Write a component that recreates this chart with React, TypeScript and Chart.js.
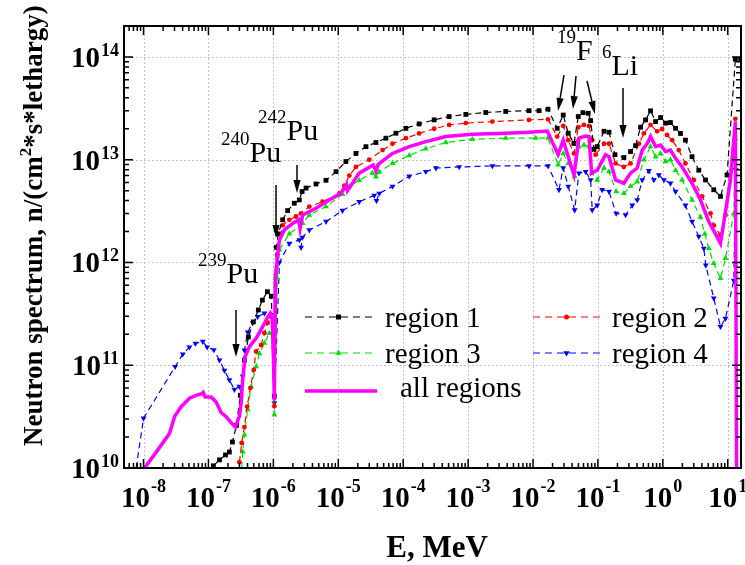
import React, { useEffect, useRef } from "react";
import { Chart, registerables } from "chart.js";

Chart.register(...registerables);

// ---------------- DATA (E in MeV, flux in n/(cm^2*s*lethargy)) ----------------
const region1: number[][] = [
  [1.19e-7, 1.05e10], [1.48e-7, 1.2e10], [1.83e-7, 1.34e10], [2.1e-7, 1.43e10], [2.34e-7, 1.79e10],
  [2.7e-7, 2.6e10], [3.1e-7, 5.1e10], [3.58e-7, 1.12e11], [4.12e-7, 1.88e11], [4.92e-7, 2.64e11],
  [5.87e-7, 3.45e11], [6.77e-7, 4.3e11], [8.09e-7, 5.2e11], [9.3e-7, 4.7e11], [1.035e-6, 5e10],
  [1.11e-6, 1.4e12], [1.19e-6, 1.9e12], [1.39e-6, 2.6e12], [1.66e-6, 3.2e12], [2.1e-6, 3.77e12],
  [2.51e-6, 4.06e12], [2.77e-6, 4.9e12], [3.19e-6, 5.3e12], [4.54e-6, 5.8e12], [6.47e-6, 6.3e12],
  [9.23e-6, 7.65e12], [1.31e-5, 9.6e12], [1.87e-5, 1.15e13], [2.67e-5, 1.34e13], [3.8e-5, 1.47e13],
  [5.42e-5, 1.62e13], [7.73e-5, 1.81e13], [1.1e-4, 2.02e13], [1.76e-4, 2.23e13], [3.0e-4, 2.44e13],
  [5.1e-4, 2.63e13], [9.23e-4, 2.76e13], [1.87e-3, 2.88e13], [3.8e-3, 2.95e13], [8.68e-3, 3.0e13],
  [1.24e-2, 3.0e13], [1.7e-2, 3.1e13], [2.36e-2, 2.02e13], [2.92e-2, 2.72e13], [3.49e-2, 1.81e13],
  [4.27e-2, 1.44e13], [4.98e-2, 2.63e13], [5.88e-2, 2.87e13], [7.09e-2, 2.83e13], [7.73e-2, 2.4e13],
  [8.68e-2, 1.26e13], [9.75e-2, 1.34e13], [0.124, 1.89e13], [0.148, 1.85e13], [0.183, 1.12e13],
  [0.251, 1.05e13], [0.318, 1.2e13], [0.38, 1.37e13], [0.454, 2.07e13], [0.542, 2.44e13],
  [0.647, 2.99e13], [0.773, 2.35e13], [0.923, 2.57e13], [1.1, 2.27e13], [1.31, 2.3e13],
  [1.57, 2.02e13], [1.87, 1.8e13], [2.23, 1.55e13], [2.82, 1.07e13], [3.58, 7.9e12],
  [4.54, 6.35e12], [6.09, 5.1e12], [7.73, 4.4e12], [9.75, 7.1e12], [13.1, 9.5e13], [15.9, 9.5e13],
];

const region2: number[][] = [
  [3.0e-7, 1.14e10], [3.25e-7, 1.75e10], [3.58e-7, 2.5e10], [3.94e-7, 3.96e10], [4.42e-7, 6.0e10],
  [4.98e-7, 9.0e10], [5.42e-7, 1.36e11], [6.47e-7, 1.57e11], [7.28e-7, 2.06e11], [8.17e-7, 2.58e11],
  [9.22e-7, 2.97e11], [1.035e-6, 4e10], [1.15e-6, 1.2e12], [1.39e-6, 2.3e12], [1.76e-6, 2.6e12],
  [2.23e-6, 2.8e12], [2.67e-6, 3.0e12], [3.58e-6, 3.5e12], [5.73e-6, 3.9e12], [1.04e-5, 4.7e12],
  [1.24e-5, 5.6e12], [1.48e-5, 7.0e12], [1.87e-5, 8.5e12], [3.0e-5, 1.0e13], [4.81e-5, 1.24e13],
  [6.84e-5, 1.43e13], [1.1e-4, 1.62e13], [1.76e-4, 1.8e13], [3.0e-4, 2.0e13], [5.1e-4, 2.18e13],
  [9.23e-4, 2.27e13], [2.37e-3, 2.35e13], [8.68e-3, 2.44e13], [1.7e-2, 2.47e13], [2.36e-2, 1.68e13],
  [2.92e-2, 2.13e13], [3.49e-2, 1.55e13], [4.27e-2, 1.15e13], [4.98e-2, 2.07e13], [6.09e-2, 2.18e13],
  [7.28e-2, 2.13e13], [8.17e-2, 1.55e13], [9.22e-2, 1.12e13], [0.124, 1.43e13], [0.148, 1.43e13],
  [0.187, 9.2e12], [0.251, 8.5e12], [0.318, 9.2e12], [0.428, 1.43e13], [0.51, 1.8e13],
  [0.647, 2.18e13], [0.817, 1.89e13], [0.975, 1.99e13], [1.16, 1.74e13], [1.39, 1.55e13],
  [1.76, 1.24e13], [2.23, 9.2e12], [3.0, 6.35e12], [4.03, 4.4e12], [5.42, 3.0e12],
  [6.09, 2.3e12], [7.73, 1.85e12], [9.22, 2.9e12], [13.1, 2.5e13],
];

const region3: number[][] = [
  [3.19e-7, 8e9], [3.37e-7, 1.44e10], [3.58e-7, 2.1e10], [4.03e-7, 3.7e10], [4.54e-7, 6.2e10],
  [5.42e-7, 9.7e10], [6.09e-7, 1.3e11], [7.28e-7, 1.64e11], [8.68e-7, 2.05e11], [9.75e-7, 2.1e11],
  [1.035e-6, 3.3e10], [1.15e-6, 7e11], [1.24e-6, 1.33e12], [1.76e-6, 1.9e12], [2.83e-6, 2.4e12],
  [3.58e-6, 2.9e12], [6.47e-6, 3.5e12], [1.16e-5, 4.6e12], [1.48e-5, 5.5e12], [2.1e-5, 6.3e12],
  [3.34e-5, 7.4e12], [3.8e-5, 6.8e12], [4.28e-5, 7.6e12], [6.84e-5, 9.2e12], [1.24e-4, 1.1e13],
  [2.23e-4, 1.28e13], [4.54e-4, 1.47e13], [1.16e-3, 1.58e13], [3.8e-3, 1.62e13], [1.1e-2, 1.62e13],
  [1.7e-2, 1.62e13], [2.44e-2, 8.9e12], [2.92e-2, 1.15e13], [3.49e-2, 9.2e12], [4.38e-2, 6.9e12],
  [5.1e-2, 1.34e13], [6.09e-2, 1.39e13], [7.28e-2, 1.34e13], [8.0e-2, 7.4e12], [9.75e-2, 6.35e12],
  [0.124, 8.3e12], [0.148, 7.65e12], [0.191, 4.9e12], [0.251, 4.7e12], [0.318, 5.5e12],
  [0.403, 6.1e12], [0.51, 1.0e13], [0.647, 1.34e13], [0.773, 1.07e13], [0.923, 1.15e13],
  [1.1, 9.6e12], [1.31, 1.0e13], [1.57, 7.9e12], [1.98, 6.35e12], [2.82, 4.06e12],
  [3.8, 2.76e12], [4.43, 1.9e12], [5.1, 1.37e12], [6.09, 9.8e11], [7.73, 7.0e11],
  [9.22, 1.1e12], [12.4, 3.0e12], [13.2, 1.6e13],
];

const region4: number[][] = [
  [7.3e-9, 8e9], [1.0e-8, 3.05e10], [3.07e-8, 9.7e10], [4.03e-8, 1.28e11], [5.1e-8, 1.5e11],
  [6.31e-8, 1.63e11], [8.17e-8, 1.7e11], [9.55e-8, 1.5e11], [1.21e-7, 1.41e11], [1.48e-7, 1.12e11],
  [1.76e-7, 8.9e10], [2.1e-7, 7.2e10], [2.51e-7, 5.8e10], [3.0e-7, 6.2e10], [3.37e-7, 7.8e10],
  [3.58e-7, 1.4e11], [4.03e-7, 2.1e11], [4.81e-7, 2.6e11], [5.73e-7, 2.97e11], [7.28e-7, 3.2e11],
  [9.22e-7, 3.1e11], [1.035e-6, 4.3e10], [1.24e-6, 1.0e12], [1.76e-6, 1.53e12], [2.51e-6, 1.66e12],
  [2.67e-6, 1.4e12], [2.79e-6, 1.75e12], [3.58e-6, 2.07e12], [6.47e-6, 2.5e12], [1.16e-5, 3.2e12],
  [2.1e-5, 3.9e12], [3.58e-5, 4.5e12], [3.88e-5, 4.0e12], [4.28e-5, 4.7e12], [6.84e-5, 5.5e12],
  [1.24e-4, 6.9e12], [2.23e-4, 7.65e12], [3.19e-4, 8.3e12], [7.28e-4, 8.5e12], [2.37e-3, 8.7e12],
  [8.68e-3, 8.7e12], [1.7e-2, 8.7e12], [2.51e-2, 5.1e12], [2.92e-2, 8.3e12], [3.49e-2, 5.5e12],
  [4.38e-2, 3.24e12], [5.1e-2, 7.4e12], [6.47e-2, 7.65e12], [7.73e-2, 6.35e12], [8.17e-2, 3.24e12],
  [9.75e-2, 3.6e12], [0.116, 5.1e12], [0.148, 4.9e12], [0.191, 3.0e12], [0.267, 2.9e12],
  [0.338, 3.6e12], [0.403, 4.06e12], [0.481, 6.35e12], [0.609, 7.8e12], [0.728, 6.35e12],
  [0.868, 7.1e12], [1.04, 6.35e12], [1.31, 5.9e12], [1.57, 4.9e12], [2.23, 3.6e12],
  [2.82, 2.5e12], [3.58, 1.79e12], [4.28, 1.37e12], [4.59, 9.4e11], [6.09, 4.5e11],
  [7.73, 2.37e11], [9.22, 2.85e11], [12.4, 6.7e11], [13.2, 8e12],
];

const allRegions: number[][] = [
  [9.75e-9, 9.5e9], [1.66e-8, 1.5e10], [2.51e-8, 2.17e10], [3.0e-8, 3.16e10], [3.8e-8, 3.95e10],
  [5.1e-8, 4.77e10], [6.47e-8, 5.1e10], [7.73e-8, 5.25e10], [8.28e-8, 5.45e10], [8.89e-8, 4.9e10],
  [1.1e-7, 4.9e10], [1.31e-7, 4.4e10], [1.57e-7, 3.45e10], [1.87e-7, 3.16e10], [2.23e-7, 2.76e10],
  [2.6e-7, 2.5e10], [3.0e-7, 3.2e10], [3.19e-7, 4.3e10], [3.37e-7, 7.2e10], [3.67e-7, 1.21e11],
  [4.28e-7, 1.52e11], [5.42e-7, 1.83e11], [6.84e-7, 2.37e11], [8.0e-7, 2.87e11], [9.0e-7, 3.2e11],
  [9.75e-7, 2.8e11], [1.035e-6, 4.6e10], [1.07e-6, 7.3e11], [1.24e-6, 1.66e12], [1.48e-6, 2.07e12],
  [1.98e-6, 2.4e12], [2.45e-6, 2.6e12], [2.58e-6, 2.14e12], [2.83e-6, 2.9e12], [4.54e-6, 3.37e12],
  [7.28e-6, 4.06e12], [1.1e-5, 4.7e12], [1.34e-5, 5.7e12], [1.39e-5, 5.0e12], [2.1e-5, 7.4e12],
  [3.45e-5, 8.9e12], [3.8e-5, 7.7e12], [4.12e-5, 9.0e12], [6.84e-5, 1.15e13], [1.24e-4, 1.34e13],
  [2.23e-4, 1.5e13], [4.54e-4, 1.68e13], [1.16e-3, 1.77e13], [3.8e-3, 1.81e13], [8.68e-3, 1.85e13],
  [1.66e-2, 1.9e13], [2.44e-2, 1.12e13], [2.92e-2, 1.55e13], [3.37e-2, 1.15e13], [4.27e-2, 7.1e12],
  [5.1e-2, 1.62e13], [6.47e-2, 1.7e13], [7.28e-2, 1.68e13], [8.0e-2, 7.4e12], [9.75e-2, 7.9e12],
  [0.131, 1.12e13], [0.148, 1.07e13], [0.187, 6.35e12], [0.251, 5.9e12], [0.318, 7.4e12],
  [0.403, 8.3e12], [0.481, 1.24e13], [0.573, 1.43e13], [0.647, 1.68e13], [0.773, 1.34e13],
  [0.923, 1.39e13], [1.1, 1.2e13], [1.31, 1.24e13], [1.57, 1.03e13], [1.98, 8.5e12],
  [2.82, 5.9e12], [3.8, 4.06e12], [5.1, 2.5e12], [6.47, 1.9e12], [7.73, 1.53e12],
  [11.0, 6.35e12], [13.1, 2.35e13], [14.0, 1e8],
];

const xTickExps = ["-8", "-7", "-6", "-5", "-4", "-3", "-2", "-1", "0", "1"];
const yTickExps = ["10", "11", "12", "13", "14"];
const legendLabels = ["region 1", "region 2", "region 3", "region 4", "all regions"];
const xTitle = "E, MeV";
const yTitleParts = ["Neutron spectrum, n/(cm", "2", "*s*lethargy)"];

// annotation texts: [superscript, main]
const noteTexts = [["239", "Pu"], ["240", "Pu"], ["242", "Pu"], ["19", "F"], ["6", "Li"]];

// ---------------- LAYOUT / STYLE ----------------
const FF = '"Liberation Serif", "Times New Roman", Times, serif';
const W = 745;
const H = 565;
const COLORS = ["#000000", "#ff0000", "#00e000", "#0000ff", "#ff00ff"];

const notePos = [
  [198, 283], [221, 162], [258, 140], [557, 60], [602, 75],
];
const arrows = [
  [236, 310, 236, 357],
  [276, 185, 276, 238],
  [297, 165, 297, 193],
  [564, 75, 558, 111],
  [576, 76, 573, 109],
  [587, 81, 595, 114],
  [623, 88, 623, 138],
];

function drawMarker(ctx: CanvasRenderingContext2D, kind: number, x: number, y: number) {
  ctx.fillStyle = COLORS[kind];
  ctx.beginPath();
  if (kind === 0) {
    ctx.rect(x - 2.5, y - 2.5, 5, 5);
  } else if (kind === 1) {
    ctx.arc(x, y, 2.5, 0, Math.PI * 2);
  } else if (kind === 2) {
    ctx.moveTo(x, y - 3.6);
    ctx.lineTo(x + 3.2, y + 1.8);
    ctx.lineTo(x - 3.2, y + 1.8);
    ctx.closePath();
  } else if (kind === 3) {
    ctx.moveTo(x, y + 3.6);
    ctx.lineTo(x + 3.2, y - 1.8);
    ctx.lineTo(x - 3.2, y - 1.8);
    ctx.closePath();
  }
  ctx.fill();
}

function drawArrow(ctx: CanvasRenderingContext2D, x1: number, y1: number, x2: number, y2: number) {
  const ang = Math.atan2(y2 - y1, x2 - x1);
  const L = 13;
  const Wd = 3.6;
  const bx = x2 - L * Math.cos(ang);
  const by = y2 - L * Math.sin(ang);
  ctx.strokeStyle = "#000";
  ctx.fillStyle = "#000";
  ctx.lineWidth = 1.5;
  ctx.setLineDash([]);
  ctx.beginPath();
  ctx.moveTo(x1, y1);
  ctx.lineTo(bx, by);
  ctx.stroke();
  ctx.beginPath();
  ctx.moveTo(x2, y2);
  ctx.lineTo(bx + Wd * Math.sin(ang), by - Wd * Math.cos(ang));
  ctx.lineTo(bx - Wd * Math.sin(ang), by + Wd * Math.cos(ang));
  ctx.closePath();
  ctx.fill();
}

function powLabel(ctx: CanvasRenderingContext2D, exp: string, ax: number, baseY: number, expY: number, align: "right" | "center") {
  ctx.font = `bold 29px ${FF}`;
  const wb = ctx.measureText("10").width;
  ctx.font = `bold 18px ${FF}`;
  const we = ctx.measureText(exp).width;
  const total = wb + we + 1;
  const x0 = align === "right" ? ax - total : ax - total / 2;
  ctx.fillStyle = "#000";
  ctx.textAlign = "left";
  ctx.textBaseline = "alphabetic";
  ctx.font = `bold 29px ${FF}`;
  ctx.fillText("10", x0, baseY);
  ctx.font = `bold 18px ${FF}`;
  ctx.fillText(exp, x0 + wb + 1, expY);
}

const decoPlugin = {
  id: "deco",
  beforeDatasetsDraw(chart: any) {
    const { ctx, chartArea: a, scales } = chart;
    const xs = scales.x;
    const ys = scales.y;
    ctx.save();
    ctx.strokeStyle = "#c4c4c4";
    ctx.lineWidth = 1;
    ctx.setLineDash([2, 2]);
    xTickExps.forEach((e) => {
      const px = Math.round(xs.getPixelForValue(Math.pow(10, Number(e)))) + 0.5;
      ctx.beginPath();
      ctx.moveTo(px, a.top);
      ctx.lineTo(px, a.bottom);
      ctx.stroke();
    });
    yTickExps.forEach((e) => {
      const py = Math.round(ys.getPixelForValue(Math.pow(10, Number(e)))) + 0.5;
      ctx.beginPath();
      ctx.moveTo(a.left, py);
      ctx.lineTo(a.right, py);
      ctx.stroke();
    });
    ctx.restore();
  },
  afterDatasetsDraw(chart: any) {
    const { ctx, chartArea: a, scales } = chart;
    const xs = scales.x;
    const ys = scales.y;
    ctx.save();
    ctx.setLineDash([]);

    // ticks (inward, all four sides)
    ctx.strokeStyle = "#000";
    ctx.lineWidth = 1.5;
    const xMinE = Math.floor(Math.log10(xs.min));
    const xMaxE = Math.ceil(Math.log10(xs.max));
    for (let e = xMinE; e <= xMaxE; e++) {
      for (let k = 1; k <= 9; k++) {
        const v = k * Math.pow(10, e);
        if (v < xs.min || v > xs.max) continue;
        const px = xs.getPixelForValue(v);
        const len = k === 1 ? 9 : 5;
        ctx.beginPath();
        ctx.moveTo(px, a.bottom);
        ctx.lineTo(px, a.bottom - len);
        ctx.moveTo(px, a.top);
        ctx.lineTo(px, a.top + len);
        ctx.stroke();
      }
    }
    const yMinE = Math.floor(Math.log10(ys.min));
    const yMaxE = Math.ceil(Math.log10(ys.max));
    for (let e = yMinE; e <= yMaxE; e++) {
      for (let k = 1; k <= 9; k++) {
        const v = k * Math.pow(10, e);
        if (v < ys.min || v > ys.max) continue;
        const py = ys.getPixelForValue(v);
        const len = k === 1 ? 9 : 5;
        ctx.beginPath();
        ctx.moveTo(a.left, py);
        ctx.lineTo(a.left + len, py);
        ctx.moveTo(a.right, py);
        ctx.lineTo(a.right - len, py);
        ctx.stroke();
      }
    }

    // frame
    ctx.lineWidth = 2;
    ctx.strokeRect(a.left, a.top, a.right - a.left, a.bottom - a.top);

    // tick labels
    xTickExps.forEach((e) => {
      const px = xs.getPixelForValue(Math.pow(10, Number(e)));
      powLabel(ctx, e, px, a.bottom + 39, a.bottom + 24, "center");
    });
    yTickExps.forEach((e) => {
      const py = ys.getPixelForValue(Math.pow(10, Number(e)));
      powLabel(ctx, e, a.left - 5, py + 10, py - 1, "right");
    });

    // axis titles
    ctx.fillStyle = "#000";
    ctx.textBaseline = "alphabetic";
    ctx.textAlign = "center";
    ctx.font = `bold 31px ${FF}`;
    ctx.fillText(xTitle, 437, 557);

    ctx.save();
    ctx.translate(42, 446);
    ctx.rotate(-Math.PI / 2);
    ctx.textAlign = "left";
    ctx.font = `bold 27px ${FF}`;
    let cx = 0;
    ctx.fillText(yTitleParts[0], cx, 0);
    cx += ctx.measureText(yTitleParts[0]).width;
    ctx.font = `bold 17px ${FF}`;
    ctx.fillText(yTitleParts[1], cx, -11);
    cx += ctx.measureText(yTitleParts[1]).width;
    ctx.font = `bold 27px ${FF}`;
    ctx.fillText(yTitleParts[2], cx, 0);
    ctx.restore();

    // annotations
    ctx.textAlign = "left";
    noteTexts.forEach(([sup, main], i) => {
      const [x, y] = notePos[i];
      ctx.font = `19px ${FF}`;
      ctx.fillText(sup, x, y - 17);
      const ws = ctx.measureText(sup).width;
      ctx.font = `30px ${FF}`;
      ctx.fillText(main, x + ws, y);
    });
    arrows.forEach(([x1, y1, x2, y2]) => drawArrow(ctx, x1, y1, x2, y2));

    // legend
    const rows = [
      [305, 372, 317, 385, 327],
      [533, 600, 317, 612, 327],
      [305, 372, 353, 385, 363],
      [533, 600, 353, 612, 363],
      [305, 377, 391, 400, 397],
    ];
    rows.forEach(([x1, x2, ly, tx, ty], i) => {
      ctx.strokeStyle = COLORS[i];
      if (i < 4) {
        ctx.lineWidth = 1.2;
        ctx.setLineDash([7, 5]);
      } else {
        ctx.lineWidth = 3.5;
        ctx.setLineDash([]);
      }
      ctx.beginPath();
      ctx.moveTo(x1, ly);
      ctx.lineTo(x2, ly);
      ctx.stroke();
      ctx.setLineDash([]);
      if (i < 4) drawMarker(ctx, i, (x1 + x2) / 2, ly);
      ctx.fillStyle = "#000";
      ctx.font = `29px ${FF}`;
      ctx.fillText(legendLabels[i], tx, ty);
    });

    ctx.restore();
  },
};

function makeDataset(pts: number[][], i: number) {
  const base: any = {
    label: legendLabels[i],
    data: pts.map(([x, y]) => ({ x, y })),
    borderColor: COLORS[i],
    backgroundColor: COLORS[i],
    tension: 0,
    fill: false,
    order: i === 4 ? 0 : i + 1,
  };
  if (i === 4) {
    base.borderWidth = 3.5;
    base.pointRadius = 0;
  } else {
    base.borderWidth = 1.2;
    base.borderDash = [6, 4];
    base.pointBorderWidth = 0;
    base.pointBackgroundColor = COLORS[i];
    base.pointStyle = i === 0 ? "rect" : i === 1 ? "circle" : "triangle";
    base.pointRadius = i === 0 ? 3.4 : i === 1 ? 2.4 : 3.4;
    if (i === 3) base.pointRotation = 180;
  }
  return base;
}

export default function App() {
  const ref = useRef<HTMLCanvasElement | null>(null);
  useEffect(() => {
    if (!ref.current) return;
    const series = [region1, region2, region3, region4, allRegions];
    const chart = new Chart(ref.current, {
      type: "line",
      data: { datasets: series.map((s, i) => makeDataset(s, i)) },
      options: {
        responsive: false,
        animation: false,
        devicePixelRatio: 1,
        events: [],
        layout: { padding: { left: 124, right: 3, top: 26, bottom: 97 } },
        scales: {
          x: { type: "logarithmic", min: 5e-9, max: 16, display: false },
          y: { type: "logarithmic", min: 1e10, max: 2e14, display: false },
        },
        plugins: { legend: { display: false }, tooltip: { enabled: false } },
      },
      plugins: [decoPlugin],
    } as any);
    return () => chart.destroy();
  }, []);
  return (
    <div style={{ position: "fixed", left: 0, top: 0, width: W, height: H, background: "#fff" }}>
      <canvas ref={ref} width={W} height={H} style={{ display: "block" }} />
    </div>
  );
}
